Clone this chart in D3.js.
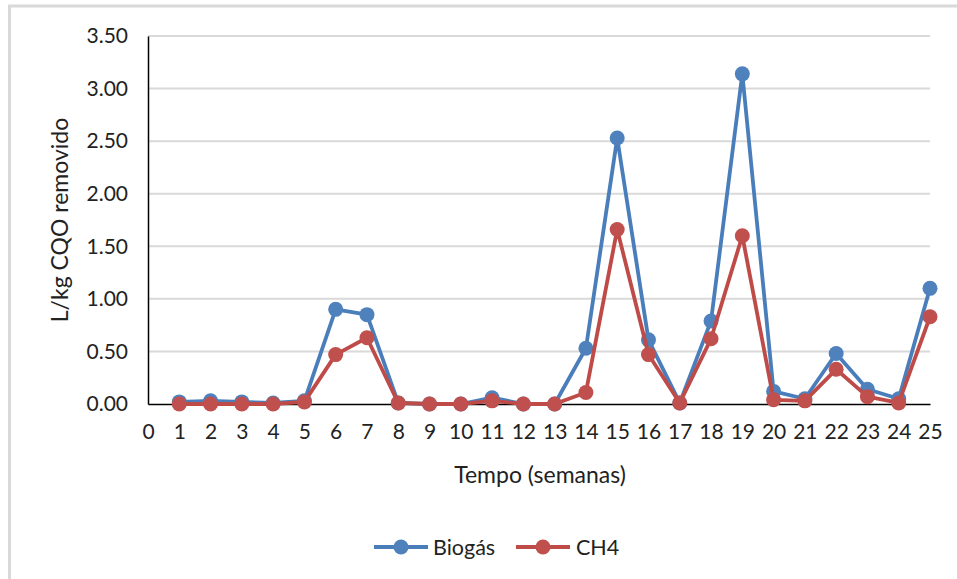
<!DOCTYPE html>
<html>
<head>
<meta charset="utf-8">
<script src="https://cdn.jsdelivr.net/npm/d3@7"></script>
<style>
  html, body { margin: 0; padding: 0; background: #fff; }
  svg { display: block; font-family: Lato, "Open Sans", sans-serif; }
</style>
</head>
<body>
<svg id="chart" width="957" height="579"></svg>
<script>
// Weekly specific production (L per kg of removed COD)
const weeks = d3.range(1, 26);
const biogas = [0.02, 0.03, 0.02, 0.01, 0.03, 0.90, 0.85, 0.01, 0.00, 0.00,
                0.06, 0.00, 0.00, 0.53, 2.53, 0.61, 0.01, 0.79, 3.14, 0.12,
                0.05, 0.48, 0.14, 0.05, 1.10];
const ch4    = [0.00, 0.00, 0.00, 0.00, 0.02, 0.47, 0.63, 0.01, 0.00, 0.00,
                0.03, 0.00, 0.00, 0.11, 1.66, 0.47, 0.01, 0.62, 1.60, 0.04,
                0.03, 0.33, 0.07, 0.01, 0.83];
const yTicks = [0, 0.5, 1, 1.5, 2, 2.5, 3, 3.5];
const xTicks = d3.range(0, 26);

const seriesList = [
  { name: "Biogás", values: biogas, color: "#4A7EBB", fill: "#4F81BD" },
  { name: "CH4",    values: ch4,    color: "#BE4B48", fill: "#C0504D" }
];

const svg = d3.select("#chart");
const plot = { left: 148, right: 930, top: 36, bottom: 404 };

const x = d3.scaleLinear().domain([0, 25]).range([plot.left, plot.right]);
const y = d3.scaleLinear().domain([0, 3.5]).range([plot.bottom, plot.top]);

// chart area frame (top and left edges)
svg.append("path")
  .attr("d", `M9.5,579 V6 H957`)
  .attr("fill", "none")
  .attr("stroke", "#d9d9d9")
  .attr("stroke-width", 3);

// horizontal gridlines
svg.append("g")
  .selectAll("line")
  .data(yTicks.filter(d => d > 0))
  .join("line")
  .attr("x1", plot.left).attr("x2", plot.right)
  .attr("y1", d => y(d)).attr("y2", d => y(d))
  .attr("stroke", "#d9d9d9").attr("stroke-width", 2);

// y axis
const yAxis = svg.append("g")
  .attr("transform", `translate(${plot.left},0)`)
  .call(d3.axisLeft(y).tickValues(yTicks).tickFormat(d3.format(".2f")).tickSize(0).tickPadding(20));
yAxis.select(".domain").attr("stroke", "#000").attr("stroke-width", 1.5);
yAxis.selectAll("text").attr("font-size", 21).attr("fill", "#222").attr("font-family", "Lato, sans-serif");

// x axis
const xAxis = svg.append("g")
  .attr("transform", `translate(0,${plot.bottom})`)
  .call(d3.axisBottom(x).tickValues(xTicks).tickFormat(d3.format("d")).tickSize(0).tickPadding(20));
xAxis.select(".domain").attr("stroke", "#000").attr("stroke-width", 1.5);
xAxis.selectAll("text").attr("font-size", 21).attr("fill", "#222").attr("font-family", "Lato, sans-serif");

// axis titles
svg.append("text")
  .attr("x", 540).attr("y", 483)
  .attr("text-anchor", "middle")
  .attr("font-size", 23).attr("fill", "#222")
  .text("Tempo (semanas)");

svg.append("text")
  .attr("transform", "translate(68,220) rotate(-90)")
  .attr("text-anchor", "middle")
  .attr("font-size", 23).attr("fill", "#222")
  .text("L/kg CQO removido");

// series lines and markers
const line = d3.line().x((d, i) => x(weeks[i])).y(d => y(d));
seriesList.forEach(s => {
  const g = svg.append("g");
  g.append("path")
    .attr("d", line(s.values))
    .attr("fill", "none")
    .attr("stroke", s.color)
    .attr("stroke-width", 3.8)
    .attr("stroke-linejoin", "round");
  g.selectAll("circle")
    .data(s.values)
    .join("circle")
    .attr("cx", (d, i) => x(weeks[i]))
    .attr("cy", d => y(d))
    .attr("r", 7.5)
    .attr("fill", s.fill);
});

// legend
const legendItems = [
  { s: seriesList[0], x0: 374, textX: 433 },
  { s: seriesList[1], x0: 516, textX: 576 }
];
const ly = 547;
legendItems.forEach(item => {
  const g = svg.append("g");
  g.append("line")
    .attr("x1", item.x0).attr("x2", item.x0 + 54)
    .attr("y1", ly).attr("y2", ly)
    .attr("stroke", item.s.color).attr("stroke-width", 3.8);
  g.append("circle")
    .attr("cx", item.x0 + 27).attr("cy", ly).attr("r", 7.5)
    .attr("fill", item.s.fill);
  g.append("text")
    .attr("x", item.textX).attr("y", ly + 7.5)
    .attr("font-size", 21.5).attr("fill", "#222")
    .text(item.s.name);
});
</script>
</body>
</html>
